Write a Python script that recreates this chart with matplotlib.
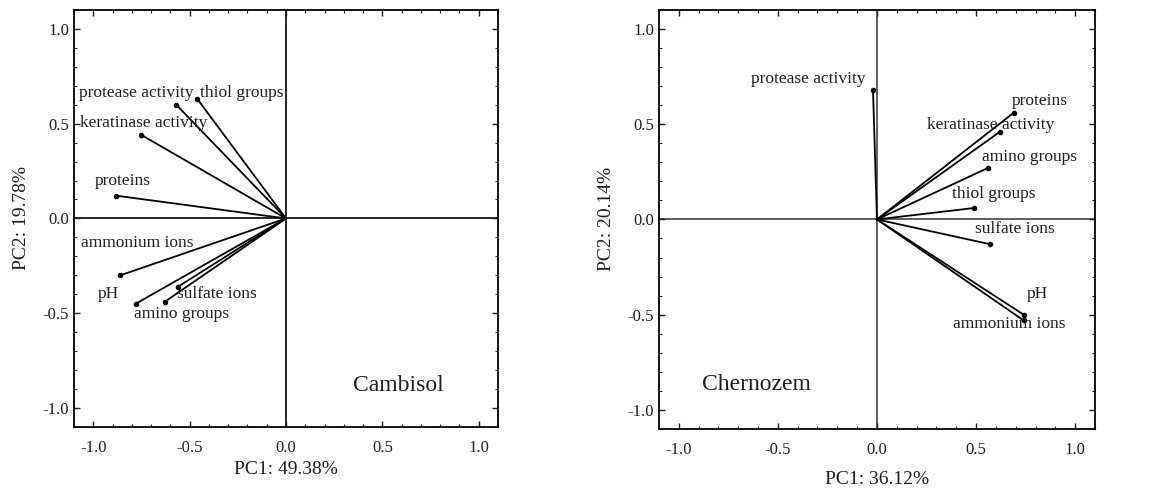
import numpy as np
import matplotlib.pyplot as plt
from matplotlib.ticker import MultipleLocator

plt.rcParams['font.family'] = ['Liberation Serif', 'DejaVu Serif']

# loadings for the two soils
cam_vars = ['protease activity', 'thiol groups', 'keratinase activity', 'proteins',
            'ammonium ions', 'pH', 'amino groups', 'sulfate ions']
cam_pc1 = [-0.57, -0.46, -0.75, -0.88, -0.86, -0.78, -0.63, -0.56]
cam_pc2 = [0.60, 0.63, 0.44, 0.12, -0.30, -0.45, -0.44, -0.36]

che_vars = ['protease activity', 'proteins', 'keratinase activity', 'amino groups',
            'thiol groups', 'sulfate ions', 'pH', 'ammonium ions']
che_pc1 = [-0.02, 0.69, 0.62, 0.56, 0.49, 0.57, 0.74, 0.74]
che_pc2 = [0.68, 0.56, 0.46, 0.27, 0.06, -0.13, -0.50, -0.53]

# where each variable name is written
cam_lab_x = [-1.075, -0.447, -1.07, -0.99, -1.065, -0.975, -0.788, -0.563]
cam_lab_y = [0.663, 0.66, 0.505, 0.20, -0.127, -0.396, -0.505, -0.396]
che_lab_x = [-0.634, 0.681, 0.25, 0.531, 0.376, 0.497, 0.756, 0.384]
che_lab_y = [0.737, 0.624, 0.498, 0.328, 0.134, -0.052, -0.393, -0.55]

fig = plt.figure(figsize=(11.6, 4.92), dpi=100)
ax1 = fig.add_axes([0.0638, 0.132, 0.3655, 0.848])
ax2 = fig.add_axes([0.568, 0.128, 0.376, 0.852])


def loading_plot(ax, names, pc1, pc2, lx, ly, soil, soil_xy, xlab, ylab, zero_col, xpad):
    ax.axhline(0, color=zero_col, lw=1.2, zorder=1)
    ax.axvline(0, color=zero_col, lw=1.2, zorder=1)
    for x, y in zip(pc1, pc2):
        ax.plot([0, x], [0, y], color='black', lw=1.3, zorder=2)
    ax.scatter(pc1, pc2, s=9, color='black', zorder=3)
    for name, x, y in zip(names, lx, ly):
        ax.text(x, y, name, fontsize=12.5, ha='left', va='center', color='#1e1e1e')
    ax.text(soil_xy[0], soil_xy[1], soil, fontsize=17, ha='left', va='center', color='#1e1e1e')

    ax.set_xlim(-1.1, 1.1)
    ax.set_ylim(-1.1, 1.1)
    ax.xaxis.set_major_locator(MultipleLocator(0.5))
    ax.yaxis.set_major_locator(MultipleLocator(0.5))
    ax.xaxis.set_minor_locator(MultipleLocator(0.1))
    ax.yaxis.set_minor_locator(MultipleLocator(0.1))
    ax.xaxis.set_major_formatter(lambda v, p: f'{v:.1f}')
    ax.yaxis.set_major_formatter(lambda v, p: f'{v:.1f}')
    ax.tick_params(which='both', direction='in', top=True, right=True,
                   labelsize=12, colors='#1e1e1e')
    ax.tick_params(which='major', length=4, width=1)
    ax.tick_params(which='minor', length=2, width=0.8)
    ax.tick_params(axis='x', which='major', pad=9)
    for s in ax.spines.values():
        s.set_linewidth(1.3)
    ax.set_xlabel(xlab, fontsize=14, labelpad=xpad, color='#1e1e1e')
    ax.set_ylabel(ylab, fontsize=14, labelpad=9, color='#1e1e1e')


loading_plot(ax1, cam_vars, cam_pc1, cam_pc2, cam_lab_x, cam_lab_y,
             'Cambisol', (0.35, -0.88), 'PC1: 49.38%', 'PC2: 19.78%', 'black', 4)
loading_plot(ax2, che_vars, che_pc1, che_pc2, che_lab_x, che_lab_y,
             'Chernozem', (-0.88, -0.865), 'PC1: 36.12%', 'PC2: 20.14%', '#444444', 10)

fig.savefig('out.png', dpi=100)
